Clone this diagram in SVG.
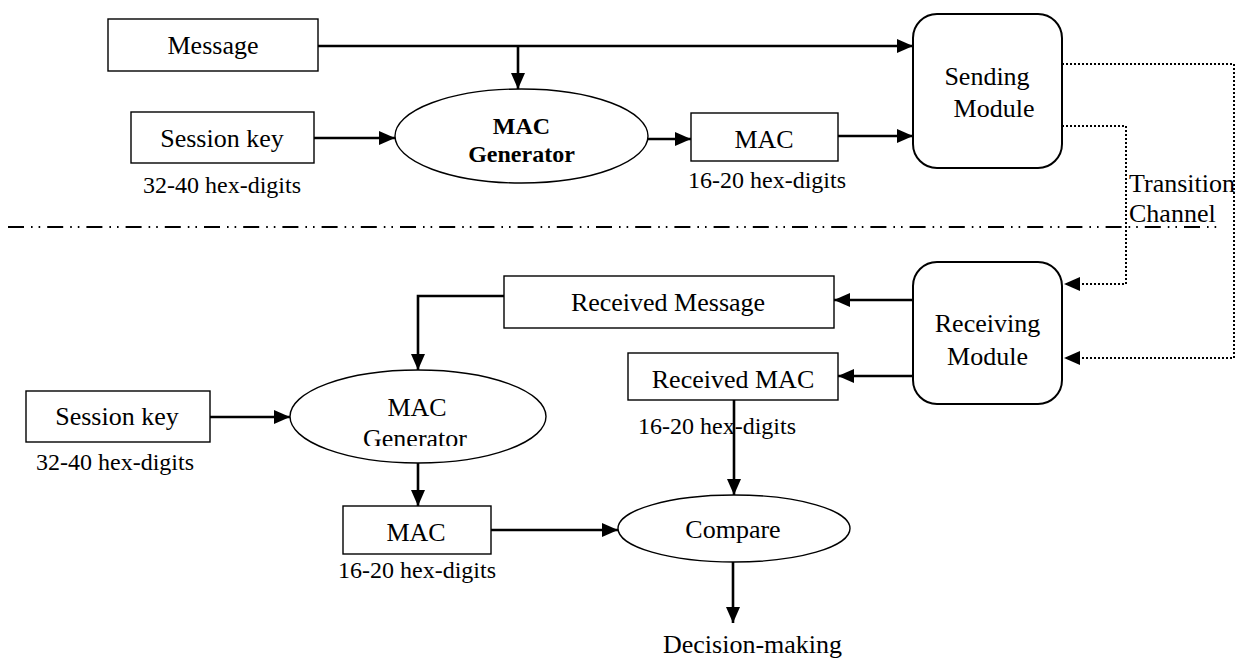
<svg xmlns="http://www.w3.org/2000/svg" width="1243" height="659" viewBox="0 0 1243 659">
<style>
text{font-family:"Liberation Serif","Times New Roman",serif;fill:#000}
.t{font-size:26px;text-anchor:middle}
.s{font-size:24px;text-anchor:middle}
.b{font-size:24px;font-weight:bold;text-anchor:middle}
.box{fill:#fff;stroke:#000;stroke-width:1.4}
.mod{fill:#fff;stroke:#000;stroke-width:2}
.ell{fill:#fff;stroke:#000;stroke-width:1.4}
.c{fill:none;stroke:#000;stroke-width:2.6}
.d{fill:none;stroke:#000;stroke-width:2;stroke-dasharray:2 2}
.sep{fill:none;stroke:#000;stroke-width:2;stroke-dasharray:16 7 1.6 6 1.6 7}
</style>
<defs>
<marker id="ah" markerWidth="16" markerHeight="14" refX="16" refY="7" orient="auto" markerUnits="userSpaceOnUse"><path d="M0,0 L16,7 L0,14 z" fill="#000"/></marker>
<clipPath id="gclip"><rect x="280" y="360" width="280" height="86"/></clipPath>
</defs>
<g id="connectors">
<path class="c" d="M318,46 H913" marker-end="url(#ah)"/>
<path class="c" d="M518,46 V89" marker-end="url(#ah)"/>
<path class="c" d="M314,138 H395" marker-end="url(#ah)"/>
<path class="c" d="M648,139 H691" marker-end="url(#ah)"/>
<path class="c" d="M838,136 H913" marker-end="url(#ah)"/>
<path class="d" d="M1062,64 H1234 V358 H1064" marker-end="url(#ah)"/>
<path class="d" d="M1062,126 H1126 V284 H1064" marker-end="url(#ah)"/>
<path class="c" d="M913,300 H834" marker-end="url(#ah)"/>
<path class="c" d="M913,376 H838" marker-end="url(#ah)"/>
<path class="c" d="M504,296 H418 V370" marker-end="url(#ah)"/>
<path class="c" d="M210,417 H290" marker-end="url(#ah)"/>
<path class="c" d="M418,463 V506" marker-end="url(#ah)"/>
<path class="c" d="M491,530 H618" marker-end="url(#ah)"/>
<path class="c" d="M734,398 V495" marker-end="url(#ah)"/>
<path class="c" d="M733,562 V623" marker-end="url(#ah)"/>
</g>
<g id="separator"><path class="sep" d="M8,227 H1218"/></g>
<g id="message"><rect class="box" x="108" y="19" width="210" height="52"/><text class="t" x="213" y="54">Message</text></g>
<g id="session-key-top"><rect class="box" x="131" y="112" width="183" height="51"/><text class="t" x="222" y="147">Session key</text><text class="s" x="222" y="193">32-40 hex-digits</text></g>
<g id="mac-gen-top"><ellipse class="ell" cx="521.5" cy="136" rx="126.5" ry="47"/><text class="b" x="521.5" y="134">MAC</text><text class="b" x="521.5" y="162">Generator</text></g>
<g id="mac-top"><rect class="box" x="691" y="113" width="147" height="48"/><text class="t" x="764" y="148">MAC</text><text class="s" x="767" y="188">16-20 hex-digits</text></g>
<g id="sending-module"><rect class="mod" x="913" y="14" width="149" height="154" rx="24" ry="24"/><text class="t" x="987" y="85">Sending</text><text class="t" x="994" y="117">Module</text></g>
<g id="channel-label"><text font-size="26" x="1129" y="192">Transition</text><text font-size="26" x="1129" y="222">Channel</text></g>
<g id="receiving-module"><rect class="mod" x="913" y="262" width="149" height="142" rx="24" ry="24"/><text class="t" x="987.5" y="332">Receiving</text><text class="t" x="987.5" y="365">Module</text></g>
<g id="received-message"><rect class="box" x="504" y="276" width="330" height="52"/><text class="t" x="668" y="311">Received Message</text></g>
<g id="received-mac"><rect class="box" x="628" y="353" width="210" height="47"/><text class="t" x="733" y="388">Received MAC</text><text class="s" x="717" y="434">16-20 hex-digits</text></g>
<g id="session-key-bottom"><rect class="box" x="26" y="391" width="184" height="51"/><text class="t" x="117" y="425">Session key</text><text class="s" x="115" y="470">32-40 hex-digits</text></g>
<g id="mac-gen-bottom"><ellipse class="ell" cx="418" cy="416.5" rx="128" ry="46.5"/><text class="t" x="417" y="416">MAC</text><text class="t" x="415" y="447" clip-path="url(#gclip)">Generator</text></g>
<g id="mac-bottom"><rect class="box" x="343" y="506" width="148" height="48"/><text class="t" x="416" y="541">MAC</text><text class="s" x="417" y="578">16-20 hex-digits</text></g>
<g id="compare"><ellipse class="ell" cx="734" cy="528.5" rx="116" ry="33.5"/><text class="t" x="733" y="538">Compare</text></g>
<g id="decision"><text font-size="26" x="663" y="653">Decision-making</text></g>
</svg>
